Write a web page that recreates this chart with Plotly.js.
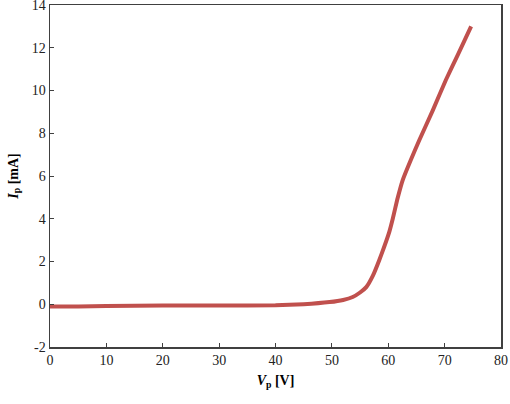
<!DOCTYPE html>
<html>
<head>
<meta charset="utf-8">
<script src="https://cdn.plot.ly/plotly-3.0.1.min.js"></script>
<style>html,body{margin:0;padding:0;background:#fff;}#chart{width:510px;height:404px;}</style>
</head>
<body>
<div id="chart"></div>
<script>
const voltage = [0, 5, 10, 20, 30, 40, 45, 49.6, 52, 53.7, 55, 56.1, 57.3, 58.4, 59.3, 60.2, 60.8, 61.6, 62.55, 64, 65.5, 67.9, 70.2, 72.4, 74.7];
const current = [-0.1, -0.1, -0.08, -0.06, -0.06, -0.05, 0, 0.1, 0.2, 0.34, 0.55, 0.8, 1.35, 2.06, 2.7, 3.4, 4.0, 4.9, 5.8, 6.75, 7.67, 9.07, 10.48, 11.7, 13.0];
const xTicks = [0, 10, 20, 30, 40, 50, 60, 70, 80];
const yTicks = [-2, 0, 2, 4, 6, 8, 10, 12, 14];

const font = {family: '"Liberation Serif", serif', size: 14, color: '#222'};
const titleFont = {family: '"Liberation Serif", serif', size: 14, color: '#000'};
const trace = {
  x: voltage, y: current, type: 'scatter', mode: 'lines',
  line: {color: '#c0504d', width: 4, shape: 'spline', smoothing: 0.4},
  hoverinfo: 'skip'
};
const layout = {
  width: 510, height: 404,
  margin: {l: 50, r: 9, t: 5, b: 57},
  paper_bgcolor: '#fff', plot_bgcolor: '#fff',
  showlegend: false,
  font: font,
  xaxis: {
    range: [0, 80], tickvals: xTicks, ticktext: xTicks.map(String),
    showgrid: false, zeroline: false, showline: true, mirror: true,
    linecolor: '#404040', linewidth: 1.5,
    ticks: 'inside', ticklen: 4, tickcolor: '#404040', tickwidth: 1,
    tickfont: font, ticklabeloverflow: 'allow',
    title: {text: '<b><i>V</i><sub>p</sub> [V]</b>', font: titleFont, standoff: 8}
  },
  yaxis: {
    range: [-2, 14], tickvals: yTicks, ticktext: yTicks.map(String),
    showgrid: false, zeroline: false, showline: true, mirror: true,
    linecolor: '#404040', linewidth: 1.5,
    ticks: 'inside', ticklen: 4, tickcolor: '#404040', tickwidth: 1,
    tickfont: font, ticklabeloverflow: 'allow',
    title: {text: '<b><i>I</i><sub>p</sub> [mA]</b>', font: titleFont, standoff: 10}
  }
};
Plotly.newPlot('chart', [trace], layout, {staticPlot: true, displayModeBar: false});
</script>
</body>
</html>
